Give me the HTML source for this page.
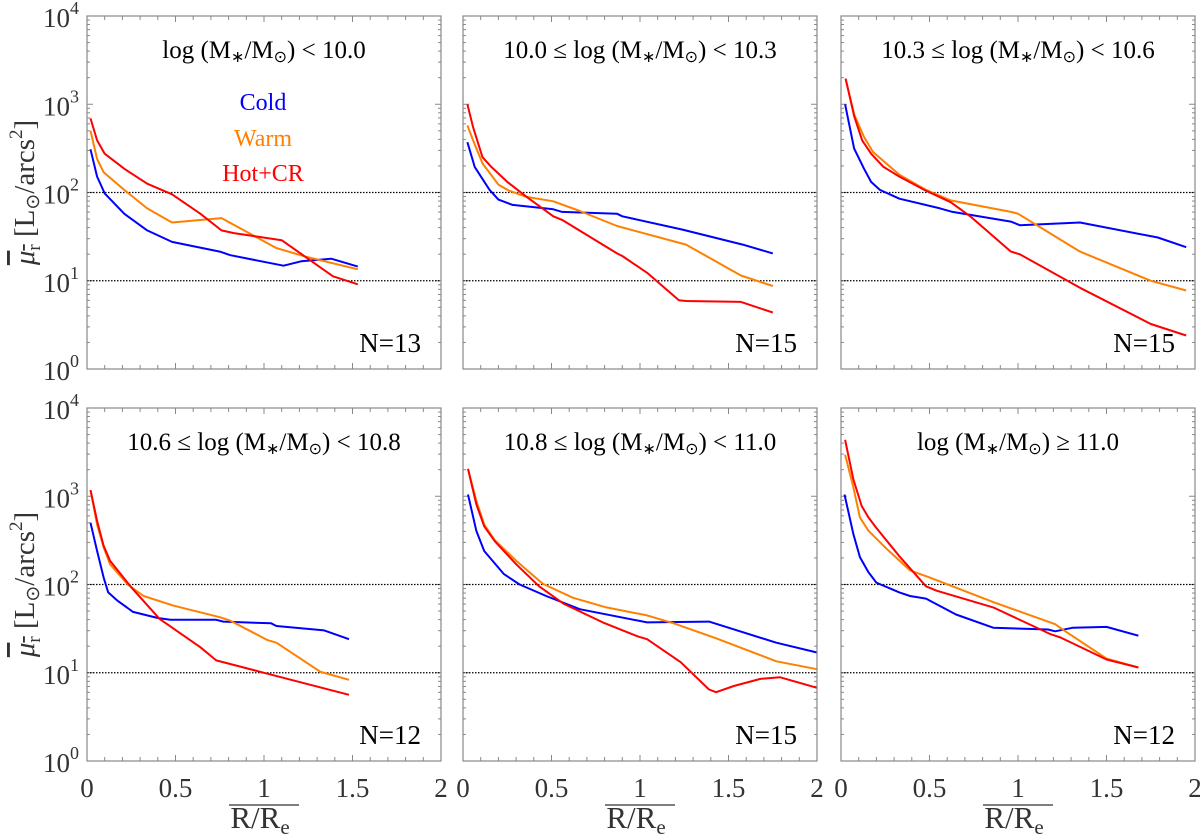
<!DOCTYPE html>
<html><head><meta charset="utf-8"><style>
html,body{margin:0;padding:0;background:#fff;}
svg{display:block;font-family:"Liberation Serif",serif;}
</style></head><body>
<svg id="fig" width="1200" height="840" viewBox="0 0 1200 840"></svg>
<script>
// Panel titles and sample sizes
const titlePrefix = ["","10.0 \u2264 ","10.3 \u2264 ","10.6 \u2264 ","10.8 \u2264 ",""];
const titleSuffix = [" < 10.0"," < 10.3"," < 10.6"," < 10.8"," < 11.0"," \u2265 11.0"];
const panelN = ["N=13","N=15","N=15","N=12","N=15","N=12"];
const xTicks = [0,0.5,1,1.5,2];
const xTickLabels = ["0","0.5","1","1.5","2"];
const yTickExp = [0,1,2,3,4];
const refLines = [10,100];
// series: R/Re and log10(mu_r)
const coldR = [
 [0.02,0.057,0.10,0.21,0.34,0.48,0.75,0.81,1.11,1.21,1.38,1.53],
 [0.025,0.066,0.15,0.20,0.28,0.51,0.56,0.87,0.90,1.24,1.58,1.75],
 [0.023,0.074,0.13,0.17,0.22,0.33,0.56,0.63,0.96,1.01,1.35,1.79,1.95],
 [0.02,0.057,0.094,0.12,0.17,0.26,0.40,0.47,0.73,0.77,1.04,1.07,1.34,1.48],
 [0.028,0.075,0.12,0.23,0.32,0.47,0.66,1.04,1.39,1.77,2.0],
 [0.02,0.07,0.107,0.155,0.20,0.33,0.39,0.48,0.65,0.86,1.17,1.21,1.31,1.50,1.68]];
const coldLogMu = [
 [2.49,2.18,1.99,1.76,1.57,1.44,1.33,1.29,1.17,1.22,1.25,1.16],
 [2.57,2.29,2.03,1.92,1.86,1.81,1.78,1.76,1.73,1.58,1.41,1.31],
 [3.0,2.50,2.27,2.12,2.03,1.93,1.82,1.78,1.67,1.63,1.66,1.49,1.38],
 [2.70,2.38,2.08,1.91,1.82,1.69,1.62,1.60,1.60,1.58,1.56,1.53,1.48,1.38],
 [3.02,2.61,2.38,2.12,2.00,1.87,1.72,1.57,1.58,1.34,1.23],
 [3.02,2.57,2.31,2.14,2.02,1.91,1.87,1.84,1.66,1.51,1.49,1.47,1.51,1.52,1.42]];
const warmR = [
 [0.02,0.057,0.094,0.21,0.34,0.48,0.76,1.07,1.24,1.53],
 [0.025,0.057,0.11,0.20,0.26,0.36,0.51,0.66,0.87,1.26,1.57,1.75],
 [0.026,0.075,0.13,0.18,0.33,0.48,0.62,0.96,1.0,1.35,1.75,1.95],
 [0.02,0.057,0.094,0.13,0.23,0.32,0.49,0.75,0.81,1.02,1.07,1.32,1.48],
 [0.028,0.075,0.12,0.18,0.30,0.45,0.62,0.81,1.04,1.19,1.43,1.77,2.0],
 [0.023,0.07,0.107,0.155,0.26,0.39,0.50,0.86,1.21,1.26,1.50,1.68]];
const warmLogMu = [
 [2.70,2.38,2.23,2.03,1.82,1.66,1.71,1.37,1.27,1.13],
 [2.76,2.59,2.33,2.09,2.02,1.95,1.90,1.79,1.62,1.41,1.06,0.94],
 [3.29,2.88,2.63,2.46,2.20,2.03,1.91,1.78,1.76,1.33,1.0,0.89],
 [3.07,2.68,2.42,2.23,2.00,1.87,1.76,1.63,1.59,1.37,1.34,1.01,0.92],
 [3.31,2.95,2.68,2.50,2.27,2.01,1.85,1.74,1.65,1.56,1.39,1.13,1.04],
 [3.47,3.10,2.76,2.61,2.40,2.16,2.08,1.80,1.55,1.48,1.16,1.06]];
const hotR = [
 [0.02,0.057,0.10,0.21,0.34,0.48,0.64,0.76,0.83,1.10,1.39,1.53],
 [0.025,0.057,0.11,0.16,0.25,0.36,0.51,0.56,0.87,0.90,1.04,1.22,1.26,1.57,1.75],
 [0.026,0.075,0.12,0.17,0.24,0.33,0.48,0.62,0.73,0.96,1.01,1.35,1.75,1.95],
 [0.02,0.057,0.094,0.13,0.245,0.41,0.64,0.73,1.0,1.48],
 [0.028,0.075,0.12,0.18,0.30,0.43,0.57,0.79,0.99,1.04,1.23,1.39,1.43,1.53,1.68,1.79,2.0],
 [0.023,0.07,0.117,0.155,0.20,0.33,0.48,0.54,0.86,1.18,1.24,1.50,1.68]];
const hotLogMu = [
 [2.84,2.59,2.44,2.27,2.10,1.98,1.76,1.57,1.54,1.46,1.05,0.96],
 [3.0,2.74,2.40,2.29,2.12,1.95,1.73,1.69,1.31,1.28,1.09,0.78,0.77,0.76,0.64],
 [3.29,2.86,2.59,2.44,2.29,2.18,2.02,1.89,1.73,1.33,1.30,0.92,0.51,0.38],
 [3.07,2.72,2.44,2.27,1.98,1.61,1.29,1.14,1.0,0.75],
 [3.31,2.91,2.66,2.49,2.23,1.98,1.78,1.57,1.41,1.38,1.12,0.81,0.78,0.85,0.93,0.95,0.83],
 [3.64,3.19,2.89,2.76,2.64,2.32,1.98,1.93,1.74,1.44,1.40,1.15,1.06]];

const NS="http://www.w3.org/2000/svg";
const svg=document.getElementById('fig');
function mk(tag,attrs,parent){const e=document.createElementNS(NS,tag);for(const k in attrs)e.setAttribute(k,attrs[k]);(parent||svg).appendChild(e);return e;}
function ts(parent,txt,attrs){const s=mk('tspan',attrs||{},parent);s.textContent=txt;return s;}
const PX=[87,463,841], PY=[16,408], PW=354, PH=353;
const series=[["cold","#0000ff",coldR,coldLogMu],["warm","#ff8000",warmR,warmLogMu],["hot-cr","#ff0000",hotR,hotLogMu]];
for(let p=0;p<6;p++){
  const col=p%3,row=Math.floor(p/3),x0=PX[col],y0=PY[row];
  const sx=v=>x0+v/2*PW, sy=l=>y0+PH-l/4*PH;
  const g=mk('g',{});
  
  
  for(let t=0;t<=20;t++){const x=sx(t*0.1),len=(t%5===0)?6:4;
    mk('line',{x1:x,x2:x,y1:y0+PH,y2:y0+PH-len,stroke:'#888','stroke-width':1},g);
    mk('line',{x1:x,x2:x,y1:y0,y2:y0+len,stroke:'#888','stroke-width':1},g);}
  for(let d=0;d<4;d++)for(let m=1;m<10;m++){const y=sy(d+Math.log10(m)),len=m===1?6:3;
    mk('line',{x1:x0,x2:x0+len,y1:y,y2:y,stroke:'#888','stroke-width':1},g);
    mk('line',{x1:x0+PW,x2:x0+PW-len,y1:y,y2:y,stroke:'#888','stroke-width':1},g);}
  for(const r of refLines){const y=sy(Math.log10(r));
    const l=mk('line',{x1:x0,x2:x0+PW,y1:y,y2:y,stroke:'#000','stroke-width':1.3,'stroke-dasharray':'1.5 1.5'},g);
    
    }
  for(const [nm,c,R,L] of series){
    const pts=R[p].map((r,i)=>sx(r).toFixed(1)+','+sy(L[p][i]).toFixed(1)).join(' ');
    const pl=mk('polyline',{points:pts,fill:'none',stroke:c,'stroke-width':2,'stroke-linejoin':'round'},g);
    
    }
  const fr=mk('rect',{x:x0,y:y0,width:PW,height:PH,fill:'none',stroke:'#888','stroke-width':1.2},g);
  
  
  const tt=mk('text',{x:x0+PW/2,y:y0+42,'text-anchor':'middle','font-size':25},g);
  
  
  ts(tt,titlePrefix[p]+'log (M');
  ts(tt,'\u2217',{dy:4,'font-size':16});
  ts(tt,'/M',{dy:-4});
  ts(tt,'\u2299',{dy:4,'font-size':16});
  ts(tt,')'+titleSuffix[p],{dy:-4});
  const nt=mk('text',{x:x0+PW-20,y:y0+PH-17,'text-anchor':'end','font-size':27},g);nt.textContent=panelN[p];
  
  
  if(col===0){
    for(const e of yTickExp){const y=sy(e);
      const t=mk('text',{x:x0-8,y:y+11,'text-anchor':'end','font-size':27,fill:'#333'},g);
      
      
      t.appendChild(document.createTextNode('10'));
      ts(t,String(e),{dy:-13,'font-size':18});}
    const yl=mk('text',{transform:`translate(34,${y0+PH/2}) rotate(-90)`,'text-anchor':'middle','font-size':29,fill:'#333'},g);
    
    
    ts(yl,'\u03bc',{'font-style':'italic','text-decoration':'overline'});
    ts(yl,'r',{dy:6,'font-size':19,'text-decoration':'overline'});
    ts(yl,' [L',{dy:-6});
    ts(yl,'\u2299',{dy:5,'font-size':19});
    ts(yl,'/arcs',{dy:-5});
    ts(yl,'2',{dy:-12,'font-size':19});
    ts(yl,']',{dy:12});
  }
  if(row===1){
    xTicks.forEach((v,i)=>{const t=mk('text',{x:sx(v),y:y0+PH+36,'text-anchor':'middle','font-size':27,fill:'#333'},g);t.textContent=xTickLabels[i];
      
      });
    const cx=x0+PW/2;
    const xl=mk('text',{x:cx-4,y:y0+PH+67,'text-anchor':'middle','font-size':31,fill:'#333'},g);
    
    
    xl.appendChild(document.createTextNode('R/R'));
    ts(xl,'e',{dy:6,'font-size':21});
    mk('line',{x1:cx-35,x2:cx+35,y1:y0+PH+44,y2:y0+PH+44,stroke:'#333','stroke-width':1.3},g);
  }
  if(p===0){
    [["Cold","#0000ff",102],["Warm","#ff8000",138],["Hot+CR","#ff0000",173]].forEach(([t,c,y])=>{
      const e=mk('text',{x:263,y:y+8,'text-anchor':'middle','font-size':24,fill:c},g);e.textContent=t;
      
      });
  }
}
</script>
</body></html>
